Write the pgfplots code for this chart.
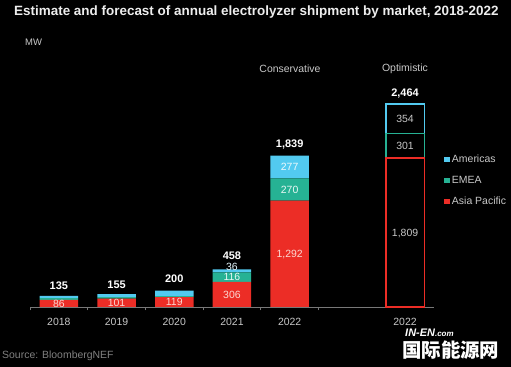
\documentclass[border=0pt]{standalone}
\usepackage{fontspec}
\setmainfont{Liberation Sans}
\newfontfamily\cjk{Noto Sans CJK SC}
\usepackage{pgfplots}
\pgfplotsset{compat=1.18}
\definecolor{cred}{RGB}{236,45,38}
\definecolor{cteal}{RGB}{38,178,148}
\definecolor{cblue}{RGB}{82,202,240}
\definecolor{tickgray}{RGB}{200,200,200}
\definecolor{segred}{RGB}{252,215,210}
\definecolor{linegray}{RGB}{120,120,120}
\pgfplotsset{
  base/.style={
    at={(30bp,60bp)}, anchor=south west, scale only axis,
    width=403.9bp, height=214bp,
    xmin=-0.5, xmax=6.5, ymin=0, ymax=2600, clip=false,
    ybar stacked, bar width=38.5bp,
  }
}
\tikzset{
  total/.style={anchor=base, inner sep=0pt, text=white, font=\bfseries\fontsize{11}{12}\selectfont},
  seg/.style={anchor=base, yshift=-3.75bp, inner sep=0pt, font=\fontsize{10.5}{12}\selectfont},
}
\begin{document}
\begin{tikzpicture}
\fill[black] (0,0) rectangle (511bp,367bp);
\useasboundingbox (0,0) rectangle (511bp,367bp);
\begin{axis}[base,
  axis x line*=bottom, hide y axis,
  axis line style={draw=linegray, line width=0.8bp},
  xtick={0,1,2,3,4,6}, xticklabels={2018,2019,2020,2021,2022,2022},
  major tick length=0pt,
  minor xtick={-0.5,0.5,1.5,2.5,3.5,4.5},
  minor tick length=3.5bp, tick align=outside,
  minor tick style={draw=linegray, line width=0.8bp},
  xticklabel style={font=\fontsize{10.5}{12}\selectfont, text=tickgray, yshift=-7.5bp},
  reverse legend,
  legend cell align=left,
  legend style={at={(1.025,0.591)}, anchor=west, draw=none, fill=none,
    text=tickgray, font=\fontsize{10.5}{12}\selectfont, row sep=9bp, inner sep=0pt,
    nodes={text height=8bp, text depth=2bp, inner sep=1bp}},
  legend image code/.code={\fill[#1] (0bp,-2.75bp) rectangle (5.5bp,2.75bp); \path (6.8bp,0bp);},
]
\addplot[fill=cred, draw=none] coordinates {(0,86) (1,101) (2,119) (3,306) (4,1292)};
\addplot[fill=cteal, draw=none] coordinates {(0,21) (1,18) (2,14) (3,116) (4,270)};
\addplot[fill=cblue, draw=none] coordinates {(0,28) (1,36) (2,67) (3,36) (4,277)};
\legend{Asia Pacific, EMEA, Americas}
\end{axis}
\begin{axis}[base, hide axis]
\addplot[fill=black, draw=cred, line width=1.5bp] coordinates {(6,1809)};
\addplot[fill=black, draw=cteal, line width=1.5bp] coordinates {(6,301)};
\addplot[fill=black, draw=cblue, line width=1.5bp] coordinates {(6,354)};
\end{axis}
\begin{axis}[base, hide axis]
% totals
\node[total, yshift=6bp] at (axis cs:0,135) {135};
\node[total, yshift=6bp] at (axis cs:1,155) {155};
\node[total, yshift=8.5bp] at (axis cs:2,200) {200};
\node[total, yshift=10.3bp] at (axis cs:3,458) {458};
\node[total, yshift=7.7bp] at (axis cs:4,1839) {1,839};
\node[total, yshift=7.5bp] at (axis cs:6,2464) {2,464};
% segment labels
\node[seg, text=segred] at (axis cs:0,43) {86};
\node[seg, text=segred] at (axis cs:1,50.5) {101};
\node[seg, text=segred] at (axis cs:2,59.5) {119};
\node[seg, text=segred] at (axis cs:3,153) {306};
\node[seg, text=white!90!cteal] at (axis cs:3,364) {116};
\node[seg, text=white!85!cblue] at (axis cs:3,490) {36};
\node[seg, text=segred] at (axis cs:4,646) {1,292};
\node[seg, text=white!90!cteal] at (axis cs:4,1427) {270};
\node[seg, text=white!90!cblue] at (axis cs:4,1700.5) {277};
\node[seg, text=tickgray] at (axis cs:6,904.5) {1,809};
\node[seg, text=tickgray] at (axis cs:6,1959.5) {301};
\node[seg, text=tickgray] at (axis cs:6,2287) {354};
\end{axis}
% titles and notes
\node[anchor=west, inner sep=0pt, text=white!93!black, font=\bfseries\fontsize{13.5}{15}\selectfont] at (14bp,355bp) {Estimate and forecast of annual electrolyzer shipment by market, 2018-2022};
\node[anchor=west, inner sep=0pt, text=tickgray, font=\fontsize{9.5}{11}\selectfont] at (25bp,325bp) {MW};
\node[inner sep=0pt, text=tickgray, font=\fontsize{10.5}{12}\selectfont] at (290bp,298bp) {Conservative};
\node[inner sep=0pt, text=tickgray, font=\fontsize{10.5}{12}\selectfont] at (405bp,298bp) {Optimistic};
\node[anchor=west, inner sep=0pt, text=gray, font=\fontsize{10.5}{12}\selectfont] at (2bp,11bp) {Source: BloombergNEF};
% watermark
\node[anchor=west, inner sep=0pt, text=white, font=\bfseries\itshape\fontsize{11}{12}\selectfont] at (405bp,34bp) {IN-EN{\fontsize{8}{9}\selectfont.com}};
\node[anchor=west, inner sep=0pt, text=white, font=\cjk\bfseries\fontsize{19.5}{21}\selectfont] at (402bp,17bp) {国际能源网};
\end{tikzpicture}
\end{document}
